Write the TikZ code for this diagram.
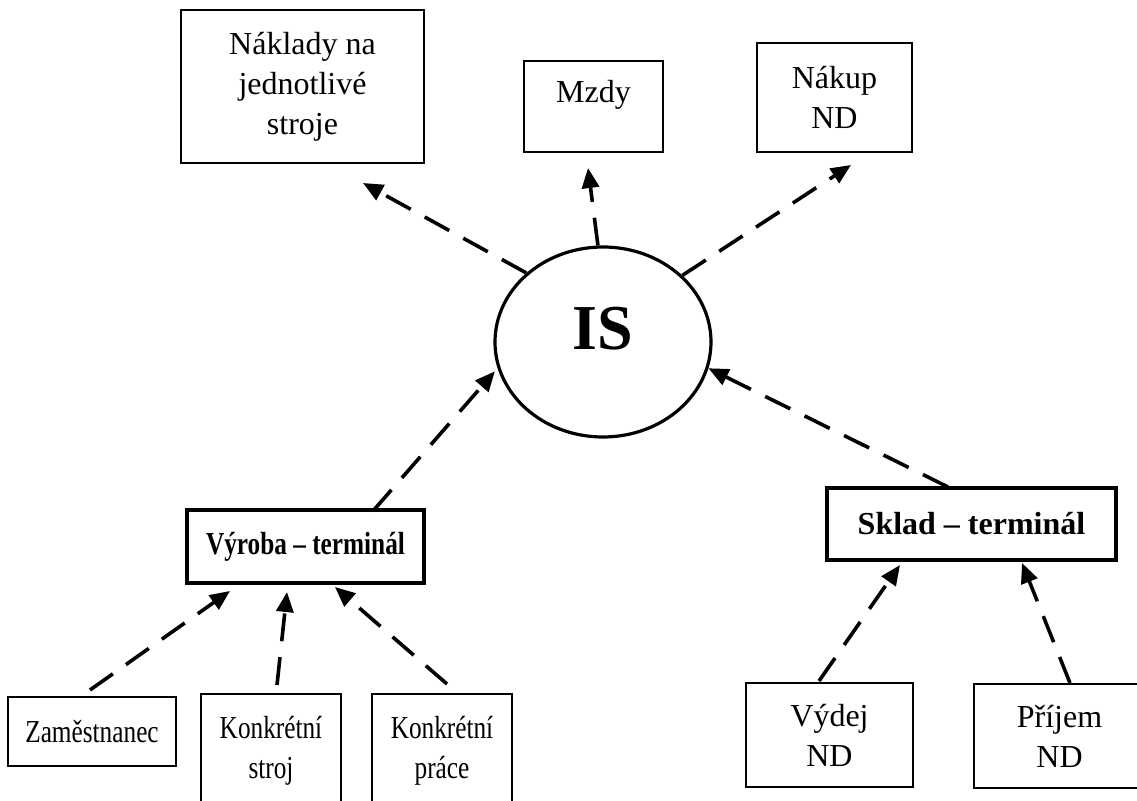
\documentclass[tikz,border=0pt]{standalone}
\usepackage{fontspec}
\setmainfont{Liberation Serif}
\newfontfamily\narrowfont[FakeStretch=0.79]{Liberation Serif}
\usetikzlibrary{arrows.meta,shapes.geometric,calc}
\begin{document}
\begin{tikzpicture}[x=0.5pt,y=-0.5pt,
  box/.style={draw, line width=1.3pt, inner sep=0pt, align=center,
    font=\fontsize{16}{20}\selectfont},
  nbox/.style={box, font=\narrowfont\fontsize{16}{20}\selectfont},
  tbox/.style={draw, line width=2pt, inner sep=0pt, align=center},
  conn/.style={line width=1.8pt, dash pattern=on 14pt off 8pt,
    -{Triangle[length=10pt,width=8.5pt]}}]
\useasboundingbox (0,0) rectangle (1137,801);
\clip (0,0) rectangle (1137,801);

% top boxes
\node[box, minimum width=121.5pt, minimum height=76.5pt] (nak) at (302.5,86.5)
  {Náklady na\\jednotlivé\\stroje};
\node[box, minimum width=69.5pt, minimum height=45.5pt, text height=10.6pt, text depth=15pt]
  (mzdy) at (593.5,106.5) {Mzdy};
\node[box, minimum width=77.5pt, minimum height=54.5pt] (nakup) at (834.5,97.5)
  {Nákup\\ND};

% centre
\node[ellipse, draw, line width=1.6pt, minimum width=108pt, minimum height=95pt,
  inner sep=0pt, font=\fontsize{32}{36}\selectfont\bfseries,
  text height=21pt, text depth=13pt] (IS) at (603,342) {IS};

% terminals
\node[tbox, minimum width=118.5pt, minimum height=36.5pt,
  font=\narrowfont\fontsize{16}{20}\selectfont\bfseries] (vyr) at (305.5,546.5)
  {Výroba – terminál};
\node[tbox, minimum width=144.5pt, minimum height=36pt,
  font=\fontsize{16}{20}\selectfont\bfseries] (skl) at (971.5,524)
  {Sklad – terminál};

% bottom boxes
\node[nbox, minimum width=84pt, minimum height=34.5pt] (zam) at (92,731.5) {Zaměstnanec};
\node[nbox, minimum width=70pt, minimum height=57pt] (kstroj) at (271,751) {Konkrétní\\stroj};
\node[nbox, minimum width=70pt, minimum height=57pt] (kprace) at (442,751) {Konkrétní\\práce};
\node[box, minimum width=83.5pt, minimum height=52pt] (vydej) at (829.5,735) {Výdej\\ND};
\node[box, minimum width=85.5pt, minimum height=52pt] (prijem) at (1059.5,736) {Příjem\\ND};

% free ends
\coordinate (t1) at (363,183);
\coordinate (t2) at (588,168);
\coordinate (t3) at (851,165);
\coordinate (s4) at (373,511);
\coordinate (s5) at (948,487);
\coordinate (s6) at (90,690);
\coordinate (t6) at (230,591);
\coordinate (s7) at (277,685);
\coordinate (t7) at (287,592);
\coordinate (s8) at (447,684);
\coordinate (t8) at (335,587);
\coordinate (s9) at (819,681);
\coordinate (t9) at (900,565);
\coordinate (s10) at (1070,683);
\coordinate (t10) at (1022,563);

% connectors
\draw[conn] (IS.138) -- (t1);
\draw[conn] (IS.93) -- (t2);
\draw[conn] (IS.40) -- (t3);
\draw[conn, shorten >=2pt] (s4) -- (IS.194);
\draw[conn] (s5) -- (IS.-14);
\draw[conn] (s6) -- (t6);
\draw[conn] (s7) -- (t7);
\draw[conn] (s8) -- (t8);
\draw[conn] (s9) -- (t9);
\draw[conn] (s10) -- (t10);
\end{tikzpicture}
\end{document}
